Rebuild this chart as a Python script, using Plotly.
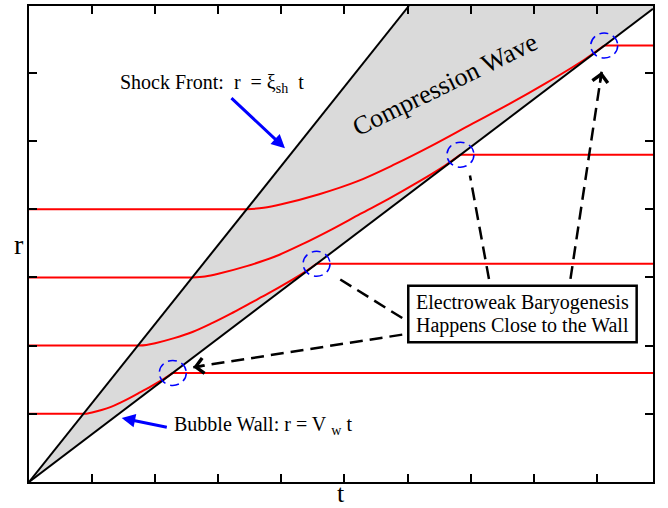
import plotly.graph_objects as go

# Axis extents (time t along x, radius r along y)
T_MAX = 9.89
R_MAX = 6.98
T_TICKS = [1, 2, 3, 4, 5, 6, 7, 8, 9]
R_TICKS = [1, 2, 3, 4, 5, 6]

# Shock front r = xi_sh * t and bubble wall r = v_w * t
shock_t = [0.0, 6.02]
shock_r = [0.0, 6.98]
wall_t = [0.0, 9.89]
wall_r = [0.0, 6.94]

# Fluid element trajectories: at rest, pushed through the compression wave,
# then swept past by the wall and at rest again
traj1_t = [0.0, 0.863, 0.93, 1.0, 1.15, 1.3, 1.45, 1.6, 1.75, 1.9, 2.05,
           2.2, 2.279, 9.89]
traj1_r = [1.0, 1.0, 1.005, 1.018, 1.055, 1.102, 1.165, 1.235, 1.31, 1.384,
           1.463, 1.548, 1.6, 1.6]

traj2_t = [0.0, 1.725, 1.86, 2.0, 2.3, 2.6, 2.9, 3.2, 3.5, 3.8, 4.1, 4.4,
           4.558, 9.89]
traj2_r = [2.0, 2.0, 2.01, 2.036, 2.11, 2.204, 2.33, 2.47, 2.62, 2.768,
           2.926, 3.096, 3.2, 3.2]

traj3_t = [0.0, 2.588, 2.79, 3.0, 3.45, 3.9, 4.35, 4.8, 5.25, 5.7, 6.15,
           6.6, 6.838, 9.89]
traj3_r = [3.0, 3.0, 3.015, 3.054, 3.165, 3.306, 3.495, 3.705, 3.93, 4.152,
           4.389, 4.644, 4.8, 4.8]

traj4_t = [0.0, 3.451, 3.72, 4.0, 4.6, 5.2, 5.8, 6.4, 7.0, 7.6, 8.2, 8.8,
           9.117, 9.89]
traj4_r = [4.0, 4.0, 4.02, 4.072, 4.22, 4.408, 4.66, 4.94, 5.24, 5.536,
           5.852, 6.192, 6.4, 6.4]

trajectories = [(traj1_t, traj1_r), (traj2_t, traj2_r),
                (traj3_t, traj3_r), (traj4_t, traj4_r)]

# Dashed pointers from the caption box to the points where the wall arrives
pointer_tail_t = [5.916, 5.916, 7.29, 8.582]
pointer_tail_r = [2.161, 2.404, 2.978, 2.978]
pointer_tip_t = [2.604, 4.886, 6.989, 9.076]
pointer_tip_r = [1.684, 2.997, 4.496, 6.015]

SERIF = "Liberation Serif"
RED = "#ff0000"
BLUE = "#0000ff"

fig = go.Figure()

# Shaded compression-wave region between shock front and wall
fill_t = shock_t + [T_MAX, wall_t[-1]] + wall_t[::-1]
fill_r = shock_r + [R_MAX, wall_r[-1]] + wall_r[::-1]
fig.add_trace(go.Scatter(x=fill_t, y=fill_r, mode="lines", fill="toself",
                         fillcolor="#dadada", line=dict(width=0),
                         hoverinfo="skip"))

# Trajectories: straight segments outside the wave, smooth curve inside it
for tt, rr in trajectories:
    fig.add_trace(go.Scatter(x=tt[:2], y=rr[:2], mode="lines",
                             line=dict(color=RED, width=2)))
    fig.add_trace(go.Scatter(x=tt[1:-1], y=rr[1:-1], mode="lines",
                             line=dict(color=RED, width=2, shape="spline",
                                       smoothing=1.0)))
    fig.add_trace(go.Scatter(x=tt[-2:], y=rr[-2:], mode="lines",
                             line=dict(color=RED, width=2)))

# Shock front and bubble wall
fig.add_trace(go.Scatter(x=shock_t, y=shock_r, mode="lines",
                         line=dict(color="black", width=2)))
fig.add_trace(go.Scatter(x=wall_t, y=wall_r, mode="lines",
                         line=dict(color="black", width=2)))

# Dashed circles at the wall arrival points
for tt, rr in trajectories:
    fig.add_shape(type="circle", xref="x", yref="y",
                  xsizemode="pixel", ysizemode="pixel",
                  xanchor=tt[-2], yanchor=rr[-2],
                  x0=-13.5, x1=13.5, y0=-12.5, y1=12.5,
                  line=dict(color=BLUE, width=1.5, dash="9px,5px"))

# Dashed pointer shafts and chevron heads
for t0, r0, t1, r1 in zip(pointer_tail_t, pointer_tail_r,
                          pointer_tip_t, pointer_tip_r):
    fig.add_trace(go.Scatter(x=[t0, t1], y=[r0, r1], mode="lines",
                             line=dict(color="black", width=2.5,
                                       dash="13px,7px")))
    fig.add_annotation(x=t1, y=r1, xref="x", yref="y",
                       ax=t1 + 0.06 * (t0 - t1), ay=r1 + 0.06 * (r0 - r1),
                       axref="x", ayref="y", text="", showarrow=True,
                       arrowhead=4, arrowsize=1.2, arrowwidth=2.5,
                       arrowcolor="black")

# Caption box
fig.add_shape(type="rect", xref="x", yref="y", x0=6.011, x1=9.631,
              y0=2.048, y1=2.876, line=dict(color="black", width=2.5),
              fillcolor="white")
fig.add_annotation(x=7.821, y=2.635, xref="x", yref="y",
                   text="Electroweak Baryogenesis", showarrow=False,
                   font=dict(family=SERIF, size=20, color="black"))
fig.add_annotation(x=7.821, y=2.292, xref="x", yref="y",
                   text="Happens Close to the Wall", showarrow=False,
                   font=dict(family=SERIF, size=20, color="black"))

# Labels with blue pointers
fig.add_annotation(x=1.415, y=5.85, xref="x", yref="y", xanchor="left",
                   yanchor="middle",
                   text="Shock Front:\u00a0\u00a0r\u00a0\u00a0= \u03be<sub>sh</sub>\u00a0\u00a0t",
                   showarrow=False,
                   font=dict(family=SERIF, size=20, color="black"))
fig.add_annotation(x=4.057, y=4.895, xref="x", yref="y",
                   ax=3.185, ay=5.650, axref="x", ayref="y", text="",
                   showarrow=True, arrowhead=2, arrowsize=0.9,
                   arrowwidth=3, arrowcolor=BLUE)

fig.add_annotation(x=2.261, y=0.832, xref="x", yref="y", xanchor="left",
                   yanchor="middle",
                   text="Bubble Wall: r = V\u00a0<sub>w</sub>\u00a0t",
                   showarrow=False,
                   font=dict(family=SERIF, size=20, color="black"))
fig.add_annotation(x=1.469, y=0.939, xref="x", yref="y",
                   ax=2.208, ay=0.799, axref="x", ayref="y", text="",
                   showarrow=True, arrowhead=2, arrowsize=0.9,
                   arrowwidth=3, arrowcolor=BLUE)

fig.add_annotation(x=6.593, y=5.83, xref="x", yref="y",
                   text="Compression Wave", textangle=-26, showarrow=False,
                   font=dict(family=SERIF, size=26, color="black"))

# Axis names
fig.add_annotation(x=-0.027, y=0.5, xref="paper", yref="paper", text="r",
                   showarrow=False,
                   font=dict(family=SERIF, size=28, color="black"))
fig.add_annotation(x=0.5, y=-0.025, xref="paper", yref="paper", text="t",
                   showarrow=False, yanchor="middle",
                   font=dict(family=SERIF, size=26, color="black"))

axis_style = dict(showgrid=False, zeroline=False, showline=True,
                  linecolor="black", linewidth=2, mirror="ticks",
                  ticks="inside", ticklen=8, tickwidth=1.5,
                  tickcolor="black", showticklabels=False)
fig.update_xaxes(range=[0, T_MAX], tickvals=T_TICKS, **axis_style)
fig.update_yaxes(range=[0, R_MAX], tickvals=R_TICKS, **axis_style)

fig.update_layout(width=668, height=508, autosize=False,
                  margin=dict(l=29, r=15, t=4, b=26),
                  plot_bgcolor="white", paper_bgcolor="white",
                  showlegend=False)

fig.write_html("out.html")
